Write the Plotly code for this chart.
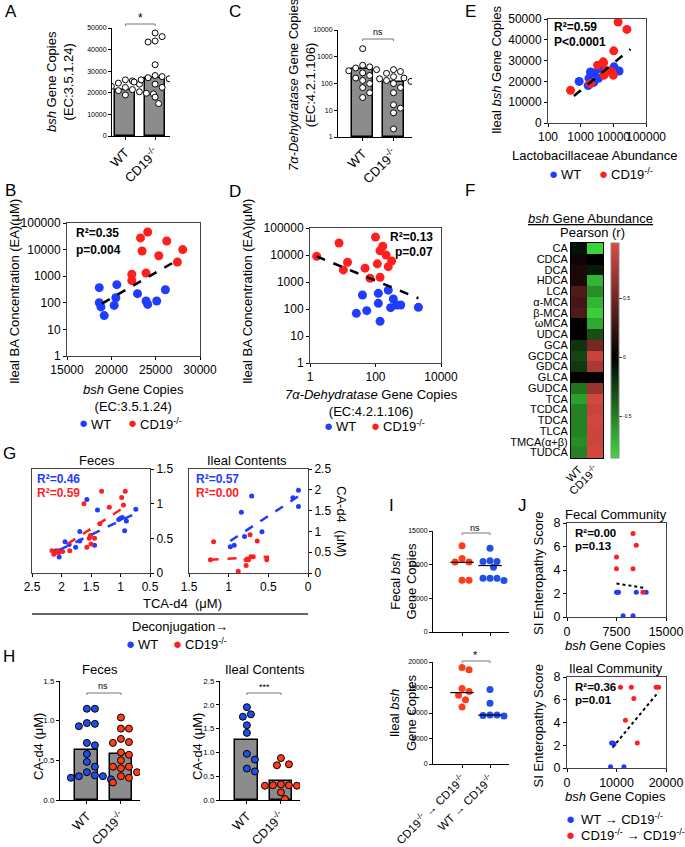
import numpy as np
import plotly.graph_objects as go

FONT = 'Liberation Sans, Arial, sans-serif'
W, H = 685, 847
BLUE, RED = '#1f3cff', '#ff1f1f'
HBLUE, HRED = '#1f4fe8', '#ff3c1a'
BAR = '#8c8c8c'
CD = 'CD19<sup>-/-</sup>'

# ---- A: bsh gene copies
a_bars = [21500, 26800]
a_wt = [26000, 25500, 24500, 24000, 23000, 22500, 21500, 20500, 20000, 19800, 19500, 19000, 19500, 21000]
a_cd = [47700, 46000, 44000, 43500, 33000, 28000, 27500, 27000, 26500, 26000, 25500, 25000, 24000, 22500, 18000, 15000]
# ---- C: 7a-dehydratase gene copies
c_bars = [340, 115]
c_wt = [2000, 480, 420, 380, 330, 300, 250, 200, 160, 130, 100, 70, 45, 30]
c_cd = [330, 280, 240, 180, 160, 150, 130, 120, 100, 70, 45, 16, 12, 8, 2]
# ---- E
e_wt_x = [900, 1700, 1800, 2000, 2500, 2600, 3500, 4000, 10500, 11000, 15000]
e_wt_y = [20000, 18000, 21500, 24500, 19500, 24000, 21500, 26000, 27000, 25000, 25000]
e_cd_x = [490, 2000, 3300, 4900, 5000, 5200, 6000, 7500, 9000, 10000, 10300, 14000, 26000]
e_cd_y = [15700, 19000, 27800, 29400, 28800, 23000, 25000, 25000, 24500, 23000, 34700, 48500, 45000]
e_fit_x = [620, 33500]
e_fit_y = [13000, 35500]
# ---- B
b_wt_x = [18640, 18640, 18830, 19200, 20320, 20510, 20620, 22950, 23920, 24100, 25120, 26100]
b_wt_y = [370, 100, 70, 33, 80, 155, 480, 220, 117, 87, 117, 310]
b_cd_x = [22310, 22310, 23290, 23470, 23920, 24100, 25350, 26250, 27450, 28050]
b_cd_y = [1180, 690, 27500, 8900, 1320, 46000, 5900, 21000, 3400, 10000]
b_fit_x = [18940, 27750]
b_fit_y = [93, 4570]
# ---- D
d_cd_x = [1.6, 7.7, 10.4, 14, 48, 68, 100, 114, 138, 166, 210, 138, 245, 310]
d_cd_y = [8900, 27700, 2800, 5400, 3250, 1380, 46000, 4700, 14400, 21000, 10000, 1500, 3700, 6000]
d_wt_x = [26, 40, 54, 122, 122, 138, 245, 290, 350, 445, 590, 2040]
d_wt_y = [69, 330, 87, 162, 380, 35, 500, 112, 235, 140, 140, 115]
d_fit_x = [1.6, 2040]
d_fit_y = [8900, 250]
# ---- F: Pearson r heatmap
f_acids = ['CA', 'CDCA', 'DCA', 'HDCA', 'LCA', 'α-MCA', 'β-MCA', 'ωMCA', 'UDCA', 'GCA', 'GCDCA', 'GDCA',
           'GLCA', 'GUDCA', 'TCA', 'TCDCA', 'TDCA', 'TLCA', 'TMCA(α+β)', 'TUDCA']
f_wt = [-0.07, 0.07, 0.12, 0.12, 0.35, 0.3, 0.35, 0.0, 0.0, -0.2, -0.27, -0.22,
        0.0, -0.45, -0.62, -0.5, -0.5, -0.5, -0.55, -0.5]
f_cd = [-0.82, 0.0, -0.1, -0.7, -0.55, -0.7, -0.8, -0.65, -0.3, 0.52, 0.88, 0.75,
        0.0, 0.68, 0.93, 0.88, 0.92, 0.9, 0.9, 0.93]
# ---- G
g1_wt_x = [2.04, 2.09, 1.94, 1.87, 1.76, 1.69, 1.69, 1.57, 1.44, 1.39, 1.03, 1.0, 0.97, 0.93, 0.9, 0.74]
g1_wt_y = [0.23, 0.32, 0.45, 0.41, 0.37, 0.6, 0.46, 1.06, 0.4, 0.91, 0.77, 0.79, 0.8, 0.61, 0.75, 0.92]
g1_cd_x = [2.16, 2.13, 2.05, 1.98, 1.86, 1.62, 1.57, 1.53, 1.51, 1.44, 1.5, 1.35, 1.32, 1.19, 0.98, 0.92, 0.95]
g1_cd_y = [0.32, 0.27, 0.29, 0.31, 0.32, 1.0, 0.37, 0.5, 0.54, 0.5, 0.42, 0.71, 1.18, 0.95, 1.09, 1.18, 0.98]
g1_wt_fit = ([2.04, 0.72], [0.33, 0.87])
g1_cd_fit = ([2.15, 0.88], [0.28, 0.98])
g2_wt_x = [0.98, 0.93, 0.84, 0.8, 0.71, 0.58, 0.19, 0.12, 0.12]
g2_wt_y = [0.63, 0.67, 1.46, 0.88, 1.85, 0.99, 1.81, 1.99, 1.6]
g2_cd_x = [1.19, 1.23, 0.88, 0.78, 0.78, 0.75, 0.73, 0.72, 0.64, 0.52, 0.69]
g2_cd_y = [0.75, 0.32, 0.04, 0.18, 0.32, 0.32, 0.92, 0.39, 0.77, 0.32, 0.39]
g2_wt_fit = ([0.98, 0.1], [0.77, 1.87])
g2_cd_fit = ([1.24, 0.49], [0.32, 0.39])
# ---- H
h1_bars = [0.63, 0.58]
h1_wt = [1.15, 1.15, 0.97, 0.96, 0.93, 0.72, 0.69, 0.58, 0.48, 0.42, 0.35, 0.31, 0.3, 0.3, 0.28, 0.26]
h1_cd = [1.04, 0.9, 0.9, 0.77, 0.73, 0.72, 0.6, 0.57, 0.5, 0.42, 0.42, 0.4, 0.35, 0.3, 0.28, 0.22]
h2_bars = [1.27, 0.39]
h2_wt = [1.95, 1.8, 1.75, 1.57, 1.41, 0.97, 0.85, 0.66, 0.6]
h2_cd = [0.88, 0.75, 0.73, 0.33, 0.31, 0.31, 0.3, 0.3, 0.16, 0.02]
# ---- I
i1_cd = [12800, 10900, 10400, 10400, 7700, 7700]
i1_wt = [12430, 10600, 10460, 10460, 9620, 8000, 8000, 8000, 7650]
i1_med = [10350, 9870]
i2_cd = [18900, 18500, 14800, 14200, 13500, 12600, 11200]
i2_wt = [14600, 11900, 9600, 9600, 9500, 9400]
i2_med = [14000, 9600]
# ---- J
j1_wt_x = [7500, 7700, 7800, 8500, 10000, 10500, 12000]
j1_wt_y = [2.1, 2.1, 2.1, 0.1, 0.1, 2.1, 2.1]
j1_cd_x = [7500, 7500, 10000, 10000, 10500, 11500]
j1_cd_y = [5.1, 4.1, 7.1, 4.1, 6.1, 2.1]
j1_fit = ([7500, 12000], [2.85, 2.45])
j2_wt_x = [9000, 9300, 9500, 8800, 11500]
j2_wt_y = [2.2, 2.2, 2.1, 0.1, 0.1]
j2_cd_x = [10800, 13000, 18000, 18500, 13500, 11800, 14200]
j2_cd_y = [7.1, 7.1, 7.1, 7.1, 6.1, 4.2, 2.2]
j2_fit = ([9200, 18500], [1.8, 6.7])


def fx(x):
    return x / W


def fy(y):
    return 1 - y / H


def swarm(vals, yscale, xscale, d, log=False):
    v = np.log10(vals) if log else np.asarray(vals, float)
    ypix = v * yscale
    placed = []
    off = np.zeros(len(vals))
    cands = [0] + [s * k * d / 2 for k in range(1, 14) for s in (1, -1)]
    for i in np.argsort(-ypix):
        for c in cands:
            if all((c - p) ** 2 + (ypix[i] - q) ** 2 >= (d * 0.95) ** 2 for p, q in placed):
                break
        placed.append((c, ypix[i]))
        off[i] = c / xscale
    return off


fig = go.Figure()
layout = {}
notes = []
shapes = []


def ax_style(size=12, box=False, **kw):
    d = dict(showgrid=False, zeroline=False, showline=True, linecolor='#444' if box else 'black',
             linewidth=1, mirror=box, ticks='outside', ticklen=3, tickcolor='black', automargin=False,
             tickfont=dict(size=size, family=FONT, color='black'))
    d.update(kw)
    if d.get('tickvals') is not None and d.get('ticktext') is None:
        d['ticktext'] = [f'{v:g}' for v in d['tickvals']]
    return d


def add_axes(n, x0, x1, y0, y1, xkw, ykw):
    xs = 'x' if n == 1 else f'x{n}'
    ys = 'y' if n == 1 else f'y{n}'
    layout['xaxis' if n == 1 else f'xaxis{n}'] = dict(domain=[fx(x0), fx(x1)], anchor=ys, **xkw)
    layout['yaxis' if n == 1 else f'yaxis{n}'] = dict(domain=[fy(y1), fy(y0)], anchor=xs, **ykw)
    return xs, ys


def note(x, y, text, size=13, color='black', angle=0, xanchor='center', bold=False):
    if bold:
        text = f'<b>{text}</b>'
    notes.append(dict(x=fx(x), y=fy(y), xref='paper', yref='paper', text=text, showarrow=False,
                      textangle=angle, xanchor=xanchor, yanchor='middle',
                      font=dict(size=size, family=FONT, color=color)))


def bracket(xs, x0, x1, y, drop=2):
    shapes.append(dict(type='path', xref=xs, yref='paper',
                       path=f'M {x0},{fy(y + drop)} L {x0},{fy(y)} L {x1},{fy(y)} L {x1},{fy(y + drop)}',
                       line=dict(color='#777', width=1)))


def legend(x, y, gap=48):
    note(x, y, '●', size=15, color=BLUE)
    note(x + 6, y + 1, 'WT', size=13, xanchor='left')
    note(x + gap, y, '●', size=15, color=RED)
    note(x + gap + 6, y + 1, CD, size=13, xanchor='left')


def bar_panel(n, box, bars, g1, g2, ppy, ppx, d, log=False, dots='white', col1=None, col2=None, yr=None,
              tickvals=None, ticktext=None, xr=None, bw=0.67, tsize=7, xsize=13):
    xs, ys = add_axes(n, *box,
                      ax_style(xsize, range=xr, tickvals=[0, 1], ticktext=['WT', CD], tickangle=-45),
                      ax_style(tsize, range=yr, tickvals=tickvals, ticktext=ticktext,
                               type='log' if log else 'linear'))
    fig.add_trace(go.Bar(x=[0, 1], y=bars, width=bw, base=[1, 1] if log else None, xaxis=xs, yaxis=ys,
                         marker=dict(color=BAR, line=dict(color='black', width=1.5))))
    for i, (g, c) in enumerate([(g1, col1), (g2, col2)]):
        off = swarm(g, ppy, ppx, d, log)
        fig.add_trace(go.Scatter(x=i + off, y=g, mode='markers', xaxis=xs, yaxis=ys,
                                 marker=dict(size=d - 1, color=c or dots, line=dict(color='black', width=1))))
    return xs, ys


# A
xs, ys = bar_panel(1, (112, 170, 28, 136), a_bars, a_wt, a_cd, 108 / 50000, 29.7, 7,
                   yr=[0, 50000], tickvals=list(range(0, 50001, 10000)), xr=[-0.45, 1.5])
bracket(xs, 0, 1, 24)
note(140, 18, '*', size=12)
note(60, 82, '<i>bsh</i> Gene Copies<br>(EC:3.5.1.24)', size=13, angle=-90)

# C
xs, ys = bar_panel(2, (338, 412, 30, 137), c_bars, c_wt, c_cd, 107 / 4, 31, 7, log=True,
                   yr=[0, 4], tickvals=[1, 10, 100, 1000, 10000],
                   ticktext=['1', '10', '100', '1000', '10000'], xr=[-0.8, 1.6])
bracket(xs, 0, 1, 39)
note(378, 32, 'ns', size=9)
note(302, 85, '<i>7α-Dehydratase</i> Gene Copies<br>(EC:4.2.1.106)', size=13, angle=-90)

# E
xs, ys = add_axes(3, 548, 646, 19, 123,
                  ax_style(12, True, type='log', range=[2, 5], tickvals=[100, 1000, 10000, 100000],
                           ticktext=['100', '1000', '10000', '100000'], tickangle=0),
                  ax_style(12, True, range=[0, 50000], tickvals=list(range(0, 50001, 10000))))
fig.add_trace(go.Scatter(x=e_wt_x, y=e_wt_y, mode='markers', xaxis=xs, yaxis=ys, marker=dict(size=9, color=BLUE)))
fig.add_trace(go.Scatter(x=e_cd_x, y=e_cd_y, mode='markers', xaxis=xs, yaxis=ys, marker=dict(size=9, color=RED)))
fig.add_trace(go.Scatter(x=e_fit_x, y=e_fit_y, mode='lines', xaxis=xs, yaxis=ys,
                         line=dict(color='black', width=2.5, dash='dash')))
note(552, 27, 'R²=0.59', size=12, xanchor='left', bold=True)
note(552, 42, 'P&lt;0.0001', size=12, xanchor='left', bold=True)
note(497, 70, 'Ileal <i>bsh</i> Gene Copies', size=13, angle=-90)
note(595, 155, 'Lactobacillaceae Abundance', size=13)
legend(553, 173, 50)

# B
xs, ys = add_axes(4, 67, 200, 223, 356,
                  ax_style(12, True, range=[15000, 30000], tickvals=[15000, 20000, 25000, 30000], tickangle=0),
                  ax_style(12, True, type='log', range=[0, 5], tickvals=[1, 10, 100, 1000, 10000, 100000],
                           ticktext=['1', '10', '100', '1000', '10000', '100000']))
fig.add_trace(go.Scatter(x=b_wt_x, y=b_wt_y, mode='markers', xaxis=xs, yaxis=ys, marker=dict(size=9, color=BLUE)))
fig.add_trace(go.Scatter(x=b_cd_x, y=b_cd_y, mode='markers', xaxis=xs, yaxis=ys, marker=dict(size=9, color=RED)))
fig.add_trace(go.Scatter(x=b_fit_x, y=b_fit_y, mode='lines', xaxis=xs, yaxis=ys,
                         line=dict(color='black', width=2.5, dash='dash')))
note(74, 233, 'R²=0.35', size=12, xanchor='left', bold=True)
note(74, 250, 'p=0.004', size=12, xanchor='left', bold=True)
note(14, 292, 'Ileal BA Concentration (EA)(μM)', size=13, angle=-90)
note(133, 398, '<i>bsh</i> Gene Copies<br>(EC:3.5.1.24)', size=13)
legend(83, 423, 49)

# D
xs, ys = add_axes(5, 310, 441, 228, 363,
                  ax_style(12, True, type='log', range=[0, 4], tickvals=[1, 100, 10000],
                           ticktext=['1', '100', '10000'], tickangle=0),
                  ax_style(12, True, type='log', range=[0, 5], tickvals=[1, 10, 100, 1000, 10000, 100000],
                           ticktext=['1', '10', '100', '1000', '10000', '100000']))
fig.add_trace(go.Scatter(x=d_wt_x, y=d_wt_y, mode='markers', xaxis=xs, yaxis=ys, marker=dict(size=9, color=BLUE)))
fig.add_trace(go.Scatter(x=d_cd_x, y=d_cd_y, mode='markers', xaxis=xs, yaxis=ys, marker=dict(size=9, color=RED)))
fig.add_trace(go.Scatter(x=d_fit_x, y=d_fit_y, mode='lines', xaxis=xs, yaxis=ys,
                         line=dict(color='black', width=2.5, dash='dash')))
note(435, 237, 'R²=0.13', size=12, xanchor='right', bold=True)
note(435, 252, 'p=0.07', size=12, xanchor='right', bold=True)
note(247, 292, 'Ileal BA Concentration (EA)(μM)', size=13, angle=-90)
note(371, 403, '<i>7α-Dehydratase</i> Gene Copies<br>(EC:4.2.1.106)', size=13)
legend(328, 425, 47)

# F heatmap
xs, ys = add_axes(6, 571, 603, 243, 458,
                  ax_style(11, True, ticks='', tickangle=-45, linecolor='black'),
                  ax_style(11, True, ticks='', autorange='reversed', linecolor='black',
                           tickmode='array', tickvals=f_acids, ticktext=f_acids))
fig.add_trace(go.Heatmap(z=np.array([f_wt, f_cd]).T, x=['WT', CD], y=f_acids, xaxis=xs, yaxis=ys,
                         zmin=-0.85, zmax=0.97, xgap=0, ygap=0,
                         colorscale=[[0, '#3ddc3d'], [0.467, '#000000'], [1, '#dc4a42']],
                         colorbar=dict(x=fx(611), xanchor='left', y=fy(243), yanchor='top', len=215,
                                       lenmode='pixels', thickness=8, thicknessmode='pixels',
                                       xpad=0, ypad=0, outlinecolor='#888', outlinewidth=1,
                                       tickvals=[-0.5, 0, 0.5], ticktext=['-0.5', '0', '0.5'],
                                       ticks='outside', ticklen=3, tickfont=dict(size=5, family=FONT))))
note(590, 218, '<u><i>bsh</i> Gene Abundance</u>', size=13)
note(592, 233, 'Pearson (r)', size=13)

# G
for n, box, xr, xt, yr, yt, sets, lbl in [
    (7, (32, 150, 469, 573), [2.5, 0.5], [2.5, 2, 1.5, 1, 0.5], [0, 1.5], [0, 0.5, 1, 1.5],
     (g1_wt_x, g1_wt_y, g1_cd_x, g1_cd_y, g1_wt_fit, g1_cd_fit), ('R²=0.46', 'R²=0.59', 35)),
    (8, (189, 308, 469, 573), [1.5, 0], [1.5, 1, 0.5, 0], [0, 2.5], [0, 0.5, 1, 1.5, 2, 2.5],
     (g2_wt_x, g2_wt_y, g2_cd_x, g2_cd_y, g2_wt_fit, g2_cd_fit), ('R²=0.57', 'R²=0.00', 194))]:
    xs, ys = add_axes(n, *box,
                      ax_style(12, True, range=xr, tickvals=xt, tickangle=0),
                      ax_style(12, True, range=yr, tickvals=yt, side='right'))
    wx, wy, cx, cy, wf, cf = sets
    fig.add_trace(go.Scatter(x=wx, y=wy, mode='markers', xaxis=xs, yaxis=ys, marker=dict(size=5, color=BLUE)))
    fig.add_trace(go.Scatter(x=cx, y=cy, mode='markers', xaxis=xs, yaxis=ys, marker=dict(size=5, color=RED)))
    fig.add_trace(go.Scatter(x=wf[0], y=wf[1], mode='lines', xaxis=xs, yaxis=ys,
                             line=dict(color=BLUE, width=2.5, dash='dash')))
    fig.add_trace(go.Scatter(x=cf[0], y=cf[1], mode='lines', xaxis=xs, yaxis=ys,
                             line=dict(color=RED, width=2.5, dash='dash')))
    note(lbl[2], 479, lbl[0], size=12, color=BLUE, xanchor='left', bold=True)
    note(lbl[2], 493, lbl[1], size=12, color=RED, xanchor='left', bold=True)
note(97, 460, 'Feces', size=13)
note(247, 460, 'Ileal Contents', size=13)
note(342, 521, 'CA-d4  (μM)', size=13, angle=90)
note(183, 603, 'TCA-d4  (μM)', size=13)
shapes.append(dict(type='line', xref='paper', yref='paper', x0=fx(32), x1=fx(308), y0=fy(614), y1=fy(614),
                   line=dict(color='#666', width=2)))
note(180, 626, 'Deconjugation→', size=13)
legend(130, 643, 47)

# H
xs, ys = bar_panel(9, (60, 140, 681, 800), h1_bars, h1_wt, h1_cd, 119 / 1.5, 34, 8,
                   col1=HBLUE, col2=HRED, yr=[0, 1.5], tickvals=[0, 0.5, 1, 1.5],
                   ticktext=['0.0', '0.5', '1.0', '1.5'], xr=[-0.79, 1.56], tsize=8, xsize=12.5)
bracket(xs, 0, 1, 693)
note(103, 686, 'ns', size=9)
xs, ys = bar_panel(10, (220, 300, 681, 800), h2_bars, h2_wt, h2_cd, 119 / 2.5, 34, 8,
                   col1=HBLUE, col2=HRED, yr=[0, 2.5], tickvals=[0, 0.5, 1, 1.5, 2, 2.5],
                   ticktext=['0.0', '0.5', '1.0', '1.5', '2.0', '2.5'], xr=[-0.79, 1.56], tsize=8,
                   xsize=12.5)
bracket(xs, 0, 1, 693)
note(264, 687, '***', size=9)
note(100, 669, 'Feces', size=13)
note(265, 669, 'Ileal Contents', size=13)
note(38, 747, 'CA-d4 (μM)', size=13, angle=-90)
note(197, 747, 'CA-d4 (μM)', size=13, angle=-90)

# I
i_labels = [f'{CD} → {CD}', f'WT → {CD}']
for n, box, grp, med, yr, step, lbl, show in [
    (11, (433, 509, 531, 632), (i1_cd, i1_wt), i1_med, 15000, 5000, 'Fecal', False),
    (12, (433, 509, 662, 764), (i2_cd, i2_wt), i2_med, 20000, 5000, 'Ileal', True)]:
    xs, ys = add_axes(n, *box,
                      ax_style(11.5, range=[-1.04, 1.68], tickvals=[0, 1], ticktext=i_labels,
                               tickangle=-45, showticklabels=show),
                      ax_style(7, range=[0, yr], tickvals=list(range(0, yr + 1, step))))
    for i, (g, c) in enumerate(zip(grp, [HRED, HBLUE])):
        off = swarm(g, (box[3] - box[2]) / yr, 28, 7)
        fig.add_trace(go.Scatter(x=i + off, y=g, mode='markers', xaxis=xs, yaxis=ys,
                                 marker=dict(size=7, color=c)))
        fig.add_trace(go.Scatter(x=[i - 0.42, i + 0.42], y=[med[i], med[i]], mode='lines', xaxis=xs, yaxis=ys,
                                 line=dict(color='black', width=1.2)))
    note(403, (box[2] + box[3]) / 2, f'{lbl} <i>bsh</i><br>Gene Copies', size=13, angle=-90)
bracket('x11', 0, 1, 533)
note(475, 528, 'ns', size=9)
bracket('x12', 0, 1, 661)
note(475, 655, '*', size=11)

# J
for n, box, xr, xt, sets, title, stats in [
    (13, (567, 666, 523, 617), 15000, [0, 7500, 15000], (j1_wt_x, j1_wt_y, j1_cd_x, j1_cd_y, j1_fit),
     'Fecal Community', ('R²=0.00', 'p=0.13')),
    (14, (567, 666, 677, 768), 20000, [0, 10000, 20000], (j2_wt_x, j2_wt_y, j2_cd_x, j2_cd_y, j2_fit),
     'Ileal Community', ('R²=0.36', 'p=0.01'))]:
    xs, ys = add_axes(n, *box,
                      ax_style(12.5, True, range=[0, xr], tickvals=xt, tickangle=0),
                      ax_style(12.5, True, range=[0, 8], tickvals=[0, 2, 4, 6, 8]))
    wx, wy, cx, cy, fit = sets
    fig.add_trace(go.Scatter(x=wx, y=wy, mode='markers', xaxis=xs, yaxis=ys, marker=dict(size=5, color=BLUE)))
    fig.add_trace(go.Scatter(x=cx, y=cy, mode='markers', xaxis=xs, yaxis=ys, marker=dict(size=5, color=RED)))
    fig.add_trace(go.Scatter(x=fit[0], y=fit[1], mode='lines', xaxis=xs, yaxis=ys,
                             line=dict(color='black', width=2, dash='dot')))
    note(616, box[2] - 9, title, size=13)
    note(573, box[2] + 10, stats[0], size=11.5, xanchor='left', bold=True)
    note(573, box[2] + 23, stats[1], size=11.5, xanchor='left', bold=True)
    note(538, (box[2] + box[3]) / 2 + 3, 'SI Enteropathy Score', size=13, angle=-90)
    note(615, box[3] + 28, '<i>bsh</i> Gene Copies', size=13)
note(570, 818, '●', size=15, color=BLUE)
note(579, 819, f'WT → {CD}', size=13, xanchor='left')
note(570, 834, '●', size=15, color=RED)
note(579, 835, f'{CD} → {CD}', size=13, xanchor='left')

# panel letters
for letter, x, y in [('A', 3, 11), ('B', 3, 190), ('C', 227, 11), ('D', 227, 191), ('E', 463, 11),
                     ('F', 463, 190), ('G', 1, 453), ('H', 1, 656), ('I', 387, 505), ('J', 516, 505)]:
    note(x, y, letter, size=17, xanchor='left')

fig.update_layout(width=W, height=H, margin=dict(l=0, r=0, t=0, b=0), showlegend=False,
                  plot_bgcolor='white', paper_bgcolor='white', annotations=notes, shapes=shapes,
                  font=dict(family=FONT, color='black'), bargap=0, **layout)
# page default body margin would offset the figure by 8px
fig.write_html('out.html', config={'displayModeBar': False},
               post_script="document.body.style.margin='0px';")
